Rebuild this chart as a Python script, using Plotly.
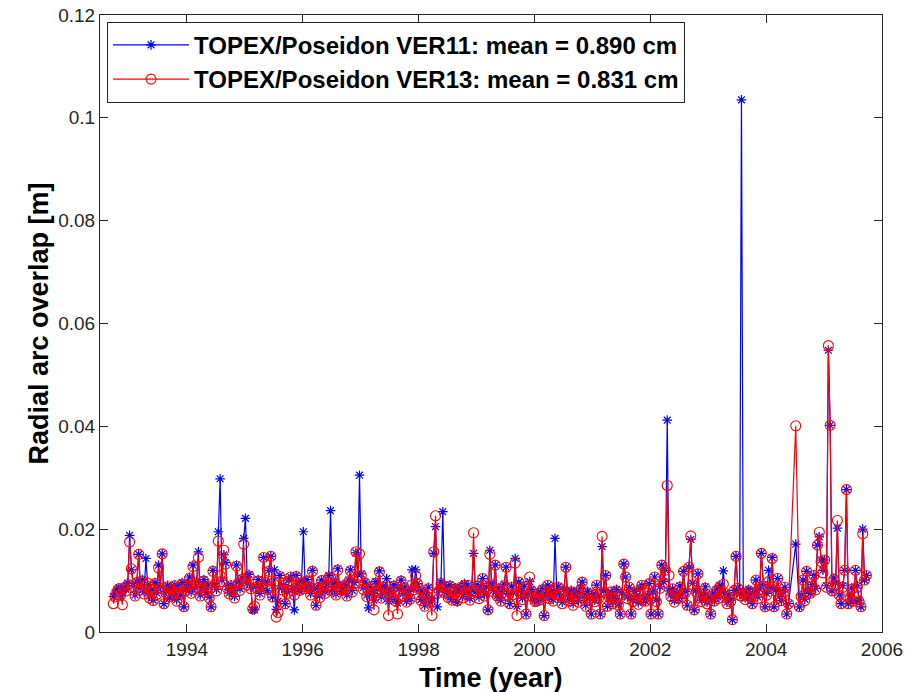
import plotly.graph_objects as go

# ---- data -------------------------------------------------------------
T0 = 1992.73          # epoch of first sample (year)
DT = 1.0 / 32.0       # sampling step (year)

ver11 = [
    # 1992.73 - 1993.70
    0.0069, 0.0075, 0.0082, 0.0086, 0.0070, 0.0078, 0.0088, 0.0083, 0.0095, 0.0188, 0.0121, 0.0090, 0.0072, 0.0098, 0.0151, 0.0085,
    0.0102, 0.0078, 0.0143, 0.0092, 0.0070, 0.0083, 0.0062, 0.0096, 0.0076, 0.0130, 0.0088, 0.0152, 0.0055, 0.0079, 0.0091, 0.0066,
    # 1993.73 - 1994.70
    0.0085, 0.0074, 0.0092, 0.0063, 0.0088, 0.0071, 0.0096, 0.0049, 0.0082, 0.0093, 0.0107, 0.0078, 0.0130, 0.0086, 0.0098, 0.0156,
    0.0072, 0.0089, 0.0102, 0.0077, 0.0091, 0.0068, 0.0049, 0.0120, 0.0094, 0.0083, 0.0195, 0.0298, 0.0101, 0.0150, 0.0135, 0.0088,
    # 1994.73 - 1995.70
    0.0076, 0.0092, 0.0081, 0.0069, 0.0130, 0.0097, 0.0084, 0.0105, 0.0182, 0.0221, 0.0095, 0.0112, 0.0087, 0.0043, 0.0043, 0.0089,
    0.0102, 0.0075, 0.0087, 0.0145, 0.0098, 0.0080, 0.0120, 0.0147, 0.0068, 0.0121, 0.0044, 0.0060, 0.0110, 0.0085, 0.0092, 0.0055,
    # 1995.73 - 1996.70
    0.0078, 0.0101, 0.0107, 0.0084, 0.0043, 0.0110, 0.0090, 0.0079, 0.0098, 0.0195, 0.0086, 0.0102, 0.0091, 0.0075, 0.0120, 0.0083,
    0.0052, 0.0088, 0.0070, 0.0101, 0.0085, 0.0078, 0.0093, 0.0110, 0.0236, 0.0082, 0.0096, 0.0074, 0.0123, 0.0088, 0.0079, 0.0092,
    # 1996.73 - 1997.70
    0.0090, 0.0072, 0.0101, 0.0121, 0.0081, 0.0096, 0.0154, 0.0112, 0.0305, 0.0113, 0.0086, 0.0097, 0.0072, 0.0047, 0.0089, 0.0075,
    0.0062, 0.0098, 0.0083, 0.0119, 0.0068, 0.0090, 0.0077, 0.0104, 0.0060, 0.0081, 0.0070, 0.0092, 0.0063, 0.0056, 0.0084, 0.0101,
    # 1997.73 - 1998.70
    0.0074, 0.0088, 0.0060, 0.0079, 0.0066, 0.0121, 0.0085, 0.0121, 0.0094, 0.0084, 0.0063, 0.0078, 0.0052, 0.0070, 0.0087, 0.0058,
    0.0065, 0.0153, 0.0205, 0.0049, 0.0083, 0.0097, 0.0234, 0.0078, 0.0087, 0.0070, 0.0092, 0.0064, 0.0075, 0.0086, 0.0058, 0.0080,
    # 1998.73 - 1999.70
    0.0087, 0.0069, 0.0094, 0.0076, 0.0091, 0.0065, 0.0082, 0.0153, 0.0078, 0.0092, 0.0068, 0.0085, 0.0104, 0.0073, 0.0088, 0.0043,
    0.0159, 0.0095, 0.0081, 0.0130, 0.0070, 0.0086, 0.0062, 0.0079, 0.0093, 0.0126, 0.0074, 0.0055, 0.0089, 0.0076, 0.0143, 0.0050,
    # 1999.73 - 2000.70
    0.0097, 0.0080, 0.0066, 0.0089, 0.0035, 0.0072, 0.0098, 0.0083, 0.0070, 0.0061, 0.0060, 0.0078, 0.0066, 0.0085, 0.0032, 0.0074,
    0.0091, 0.0068, 0.0080, 0.0063, 0.0182, 0.0076, 0.0089, 0.0070, 0.0058, 0.0083, 0.0126, 0.0072, 0.0064, 0.0081, 0.0055, 0.0069,
    # 2000.73 - 2001.70
    0.0078, 0.0061, 0.0085, 0.0097, 0.0070, 0.0052, 0.0079, 0.0066, 0.0035, 0.0074, 0.0062, 0.0091, 0.0068, 0.0035, 0.0166, 0.0080,
    0.0110, 0.0050, 0.0071, 0.0078, 0.0058, 0.0065, 0.0083, 0.0055, 0.0035, 0.0076, 0.0132, 0.0107, 0.0068, 0.0087, 0.0035, 0.0062,
    # 2001.73 - 2002.70
    0.0079, 0.0070, 0.0057, 0.0084, 0.0091, 0.0066, 0.0060, 0.0072, 0.0094, 0.0035, 0.0078, 0.0107, 0.0062, 0.0035, 0.0088, 0.0130,
    0.0098, 0.0120, 0.0412, 0.0080, 0.0072, 0.0084, 0.0061, 0.0076, 0.0065, 0.0090, 0.0070, 0.0118, 0.0079, 0.0052, 0.0126, 0.0180,
    # 2002.73 - 2003.70
    0.0095, 0.0043, 0.0081, 0.0113, 0.0070, 0.0062, 0.0075, 0.0088, 0.0058, 0.0066, 0.0035, 0.0073, 0.0060, 0.0082, 0.0068, 0.0091,
    0.0078, 0.0119, 0.0075, 0.0058, 0.0070, 0.0062, 0.0024, 0.0081, 0.0147, 0.0085, 0.0074, 0.1035, 0.0078, 0.0066, 0.0072, 0.0083,
    # 2003.73 - 2004.70
    0.0070, 0.0055, 0.0079, 0.0101, 0.0068, 0.0084, 0.0153, 0.0092, 0.0049, 0.0075, 0.0120, 0.0087, 0.0145, 0.0049, 0.0082, 0.0104,
    0.0070, 0.0061, 0.0078, 0.0087, 0.0035, 0.0055, None, None, None, 0.0171, None, 0.0049, 0.0072, 0.0101, 0.0064, 0.0118,
    # 2004.73 - 2005.73
    0.0080, 0.0075, 0.0092, 0.0110, 0.0085, 0.0169, 0.0185, 0.0140, 0.0120, 0.0140, 0.0090, 0.0548, 0.0402, 0.0080, 0.0105, 0.0095,
    0.0202, 0.0072, 0.0055, 0.0090, 0.0120, 0.0277, 0.0055, 0.0070, 0.0086, 0.0060, 0.0120, 0.0090, 0.0062, 0.0049, 0.0200, 0.0101,
    0.0110,
]

ver13 = [
    # 1992.73 - 1993.70
    0.0055, 0.0068, 0.0078, 0.0084, 0.0072, 0.0053, 0.0086, 0.0080, 0.0092, 0.0175, 0.0123, 0.0088, 0.0070, 0.0096, 0.0151, 0.0082,
    0.0099, 0.0074, 0.0090, 0.0095, 0.0066, 0.0081, 0.0061, 0.0094, 0.0073, 0.0125, 0.0085, 0.0152, 0.0055, 0.0076, 0.0088, 0.0069,
    # 1993.73 - 1994.70
    0.0083, 0.0071, 0.0090, 0.0060, 0.0086, 0.0074, 0.0093, 0.0049, 0.0080, 0.0091, 0.0104, 0.0075, 0.0127, 0.0083, 0.0095, 0.0145,
    0.0070, 0.0086, 0.0099, 0.0079, 0.0088, 0.0066, 0.0049, 0.0118, 0.0092, 0.0080, 0.0177, 0.0110, 0.0098, 0.0159, 0.0132, 0.0085,
    # 1994.73 - 1995.70
    0.0074, 0.0090, 0.0083, 0.0066, 0.0128, 0.0094, 0.0081, 0.0102, 0.0171, 0.0105, 0.0092, 0.0109, 0.0084, 0.0045, 0.0050, 0.0086,
    0.0099, 0.0072, 0.0090, 0.0145, 0.0096, 0.0083, 0.0118, 0.0147, 0.0068, 0.0098, 0.0029, 0.0038, 0.0108, 0.0082, 0.0095, 0.0055,
    # 1995.73 - 1996.70
    0.0075, 0.0098, 0.0107, 0.0081, 0.0072, 0.0108, 0.0087, 0.0081, 0.0095, 0.0088, 0.0084, 0.0099, 0.0088, 0.0072, 0.0118, 0.0080,
    0.0052, 0.0085, 0.0067, 0.0100, 0.0087, 0.0075, 0.0090, 0.0106, 0.0105, 0.0080, 0.0093, 0.0072, 0.0120, 0.0085, 0.0081, 0.0090,
    # 1996.73 - 1997.70
    0.0087, 0.0070, 0.0098, 0.0119, 0.0078, 0.0094, 0.0156, 0.0108, 0.0152, 0.0110, 0.0083, 0.0095, 0.0069, 0.0082, 0.0086, 0.0072,
    0.0043, 0.0095, 0.0080, 0.0117, 0.0066, 0.0087, 0.0074, 0.0088, 0.0032, 0.0078, 0.0068, 0.0089, 0.0060, 0.0035, 0.0081, 0.0099,
    # 1997.73 - 1998.70
    0.0071, 0.0085, 0.0058, 0.0076, 0.0064, 0.0092, 0.0082, 0.0110, 0.0094, 0.0084, 0.0061, 0.0075, 0.0050, 0.0070, 0.0084, 0.0058,
    0.0032, 0.0156, 0.0226, 0.0075, 0.0080, 0.0094, 0.0088, 0.0076, 0.0087, 0.0067, 0.0089, 0.0062, 0.0075, 0.0083, 0.0061, 0.0078,
    # 1998.73 - 1999.70
    0.0087, 0.0066, 0.0091, 0.0073, 0.0091, 0.0062, 0.0079, 0.0193, 0.0078, 0.0089, 0.0065, 0.0082, 0.0104, 0.0070, 0.0085, 0.0043,
    0.0151, 0.0092, 0.0078, 0.0130, 0.0070, 0.0083, 0.0060, 0.0076, 0.0090, 0.0126, 0.0071, 0.0055, 0.0086, 0.0073, 0.0134, 0.0032,
    # 1999.73 - 2000.70
    0.0097, 0.0077, 0.0063, 0.0086, 0.0035, 0.0070, 0.0107, 0.0080, 0.0067, 0.0059, 0.0060, 0.0075, 0.0063, 0.0082, 0.0032, 0.0071,
    0.0091, 0.0065, 0.0077, 0.0060, 0.0085, 0.0073, 0.0086, 0.0070, 0.0055, 0.0080, 0.0126, 0.0069, 0.0061, 0.0078, 0.0052, 0.0066,
    # 2000.73 - 2001.70
    0.0075, 0.0058, 0.0082, 0.0097, 0.0067, 0.0050, 0.0076, 0.0063, 0.0035, 0.0071, 0.0059, 0.0091, 0.0065, 0.0035, 0.0186, 0.0077,
    0.0110, 0.0050, 0.0068, 0.0078, 0.0055, 0.0065, 0.0080, 0.0052, 0.0035, 0.0073, 0.0132, 0.0107, 0.0065, 0.0087, 0.0035, 0.0059,
    # 2001.73 - 2002.70
    0.0076, 0.0070, 0.0054, 0.0081, 0.0091, 0.0063, 0.0060, 0.0069, 0.0094, 0.0035, 0.0075, 0.0107, 0.0059, 0.0035, 0.0085, 0.0130,
    0.0095, 0.0120, 0.0285, 0.0110, 0.0069, 0.0084, 0.0058, 0.0073, 0.0065, 0.0087, 0.0067, 0.0118, 0.0076, 0.0052, 0.0126, 0.0187,
    # 2002.73 - 2003.70
    0.0092, 0.0043, 0.0078, 0.0113, 0.0067, 0.0059, 0.0075, 0.0085, 0.0055, 0.0063, 0.0035, 0.0070, 0.0060, 0.0079, 0.0065, 0.0088,
    0.0075, 0.0093, 0.0075, 0.0055, 0.0067, 0.0059, 0.0024, 0.0081, 0.0147, 0.0085, 0.0071, 0.0070, 0.0075, 0.0063, 0.0072, 0.0080,
    # 2003.73 - 2004.70
    0.0067, 0.0055, 0.0076, 0.0101, 0.0065, 0.0081, 0.0153, 0.0089, 0.0049, 0.0072, 0.0098, 0.0087, 0.0143, 0.0049, 0.0079, 0.0104,
    0.0067, 0.0061, 0.0075, 0.0087, 0.0035, 0.0055, None, None, None, 0.0401, None, 0.0049, 0.0069, 0.0101, 0.0061, 0.0118,
    # 2004.73 - 2005.73
    0.0077, 0.0075, 0.0089, 0.0110, 0.0082, 0.0169, 0.0194, 0.0137, 0.0115, 0.0140, 0.0087, 0.0557, 0.0402, 0.0080, 0.0102, 0.0092,
    0.0217, 0.0072, 0.0055, 0.0087, 0.0120, 0.0277, 0.0055, 0.0067, 0.0083, 0.0060, 0.0120, 0.0087, 0.0059, 0.0049, 0.0191, 0.0101,
    0.0110,
]

times = [T0 + k * DT for k in range(len(ver11))]

names = ["TOPEX/Poseidon VER11: mean = 0.890 cm",
         "TOPEX/Poseidon VER13: mean = 0.831 cm"]

x_ticks = [1994, 1996, 1998, 2000, 2002, 2004, 2006]
x_tick_labels = ["1994", "1996", "1998", "2000", "2002", "2004", "2006"]
y_ticks = [0, 0.02, 0.04, 0.06, 0.08, 0.1, 0.12]
y_tick_labels = ["0", "0.02", "0.04", "0.06", "0.08", "0.1", "0.12"]

x_title = "Time (year)"
y_title = "Radial arc overlap [m]"

# ---- figure -----------------------------------------------------------
FONT = "Liberation Sans, Arial, Helvetica, sans-serif"

fig = go.Figure()
fig.add_trace(go.Scatter(
    x=times, y=ver11, name=names[0], mode="lines+markers", connectgaps=True,
    line=dict(color="rgb(0,0,255)", width=1.2),
    marker=dict(symbol="asterisk-open", size=8, color="rgb(0,0,255)",
                line=dict(color="rgb(0,0,255)", width=1.2)),
))
fig.add_trace(go.Scatter(
    x=times, y=ver13, name=names[1], mode="lines+markers", connectgaps=True,
    line=dict(color="rgb(255,0,0)", width=1.2),
    marker=dict(symbol="circle-open", size=10, color="rgb(255,0,0)",
                line=dict(color="rgb(255,0,0)", width=1.1)),
))

axis_common = dict(
    showline=True, linecolor="#262626", linewidth=1, mirror="ticks",
    ticks="inside", ticklen=8, tickcolor="#262626", tickwidth=1,
    showgrid=False, zeroline=False, automargin=False,
    tickfont=dict(family=FONT, size=19, color="#262626"),
)

fig.update_layout(
    width=916, height=692,
    margin=dict(l=100, r=34, t=15, b=60),
    paper_bgcolor="white", plot_bgcolor="white",
    font=dict(family=FONT, color="black"),
    showlegend=True,
    legend=dict(
        x=0.009, y=0.989, xanchor="left", yanchor="top",
        bgcolor="white", bordercolor="#262626", borderwidth=1,
        font=dict(family=FONT, size=24, color="black", weight="bold"),
        itemwidth=76, tracegroupgap=0,
    ),
    xaxis=dict(range=[1992.5, 2006], tickvals=x_ticks, ticktext=x_tick_labels, **axis_common),
    yaxis=dict(range=[0, 0.12], tickvals=y_ticks, ticktext=y_tick_labels, **axis_common),
    annotations=[
        dict(text=f"<b>{x_title}</b>", xref="paper", yref="paper", x=0.5, y=0,
             yshift=-46, xanchor="center", yanchor="middle", showarrow=False,
             font=dict(family=FONT, size=27, color="black")),
        dict(text=f"<b>{y_title}</b>", xref="paper", yref="paper", x=0, y=0.5,
             xshift=-62, xanchor="center", yanchor="middle", showarrow=False,
             textangle=-90, font=dict(family=FONT, size=27, color="black")),
    ],
)

fig.write_html("out.html")
